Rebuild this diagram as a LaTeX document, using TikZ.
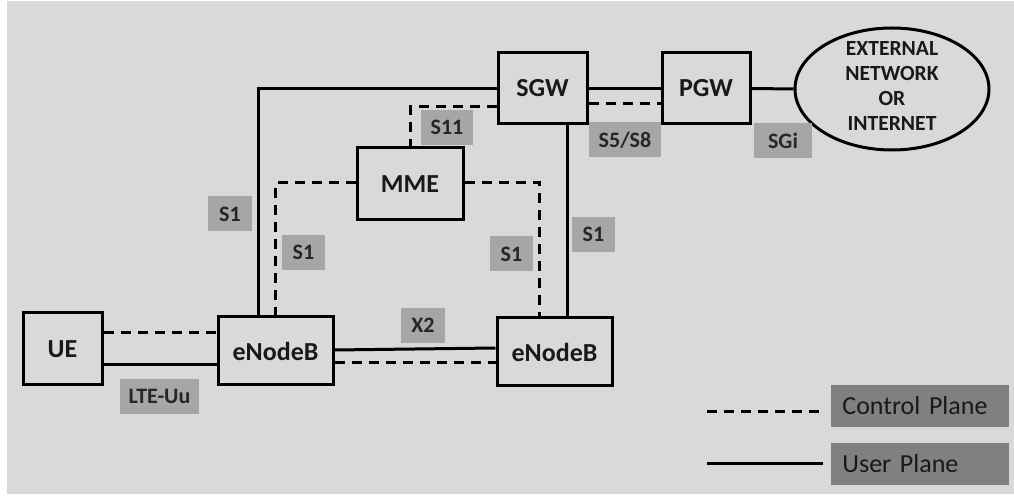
\documentclass[tikz,border=0pt]{standalone}
\usepackage{fontspec}
\setmainfont{Carlito}
\usetikzlibrary{shapes.geometric}
\definecolor{bggray}{HTML}{D9D9D9}
\definecolor{taggray}{HTML}{A6A6A6}
\definecolor{keygray}{HTML}{808080}

\begin{document}
\begin{tikzpicture}[x=0.5pt, y=-0.5pt,
  box/.style={draw, line width=1.5pt, fill=bggray, inner sep=0pt, text=black!90,
    font=\fontsize{13}{15}\selectfont\bfseries},
  tag/.style={fill=taggray, inner sep=0pt, minimum height=17.5pt, text=black!85,
    font=\fontsize{11}{13}\selectfont\bfseries},
  key/.style={fill=keygray, anchor=west, inner xsep=5.5pt, inner ysep=0pt, text width=78pt,
    minimum height=21pt, align=left, text=black!90, font=\fontsize{13}{15}\selectfont},
  uplane/.style={line width=1.5pt},
  cplane/.style={line width=1.5pt, dash pattern=on 5pt off 3.5pt}]
\useasboundingbox (0,0) rectangle (1014,502);
\fill[white] (0,0) rectangle (1014,502);
\fill[bggray] (7,1) rectangle (1014,494);
% network elements
\node[box, minimum width=39.5pt, minimum height=36pt] (ue) at (62.5,349) {UE};
\node[box, minimum width=57.5pt, minimum height=34pt] (enb1) at (275.5,351) {eNodeB};
\node[box, minimum width=57.5pt, minimum height=34pt] (enb2) at (554.5,352) {eNodeB};
\node[box, minimum width=53pt, minimum height=36pt] (mme) at (410,184) {MME};
\node[box, minimum width=44.5pt, minimum height=35.5pt] (sgw) at (542.5,88.5) {SGW};
\node[box, minimum width=44pt, minimum height=35.5pt] (pgw) at (706,88.5) {PGW};
\node[box, ellipse, minimum width=97pt, minimum height=61pt] (ext) at (892,89) {};
\node[align=center, text=black!90, font=\fontsize{10.8}{12.5}\selectfont\bfseries] (exttxt) at (892,86)
  {EXTERNAL\\NETWORK\\OR\\INTERNET};
% user plane
\draw[uplane] ([yshift=-8pt]ue.east) -- ([yshift=-8pt]ue.east -| enb1.west);
\draw[uplane] ([yshift=0.5pt]enb1.east) -- ([yshift=2pt]enb2.west);
\draw[uplane] (sgw.west) -| ([xshift=-8.75pt]enb1.north);
\draw[uplane] ([xshift=12.25pt]sgw.south) -- ([xshift=12.25pt]sgw.south |- enb2.north);
\draw[uplane] (sgw.east) -- (pgw.west);
\draw[uplane] (pgw.east) -- (ext.west);
% control plane
\draw[cplane] ([yshift=8pt]ue.east) -- ([yshift=8pt]ue.east -| enb1.west);
\draw[cplane] ([yshift=-6pt]enb1.east) -- ([yshift=-6pt]enb1.east -| enb2.west);
\draw[cplane] ([yshift=0.5pt]mme.west) -| (enb1.north);
\draw[cplane] ([yshift=0.5pt]mme.east) -| ([xshift=-7.75pt]enb2.north);
\draw[cplane] ([yshift=-9.25pt]sgw.west) -| (mme.north);
\draw[cplane] ([yshift=-7.75pt]sgw.east) -- ([yshift=-7.75pt]sgw.east -| pgw.west);
% interface tags
\node[tag, minimum width=22pt] (s1up) at (230,214) {S1};
\node[tag, minimum width=21.5pt] (s1cpl) at (303.5,252.5) {S1};
\node[tag, minimum width=21.5pt] (s1cpr) at (511.5,254) {S1};
\node[tag, minimum width=21.5pt] (s1upr) at (593.5,234.5) {S1};
\node[tag, minimum width=26pt] (s11) at (447,127.5) {S11};
\node[tag, minimum width=36pt] (s5s8) at (625,140) {S5/S8};
\node[tag, minimum width=29pt] (sgi) at (783,140.5) {SGi};
\node[tag, minimum width=22pt] (x2) at (423,325.5) {X2};
\node[tag, minimum width=39.5pt] (lteuu) at (159.5,396.5) {LTE-Uu};
% legend
\coordinate (cpa) at (707,412);
\coordinate (cpb) at (823,412);
\coordinate (upa) at (707,464);
\coordinate (upb) at (823,464);
\draw[cplane] (cpa) -- (cpb);
\draw[uplane] (upa) -- (upb);
\node[key] (cpkey) at (831,406) {Control Plane};
\node[key] (upkey) at (831,464) {User Plane};
\end{tikzpicture}
\end{document}
